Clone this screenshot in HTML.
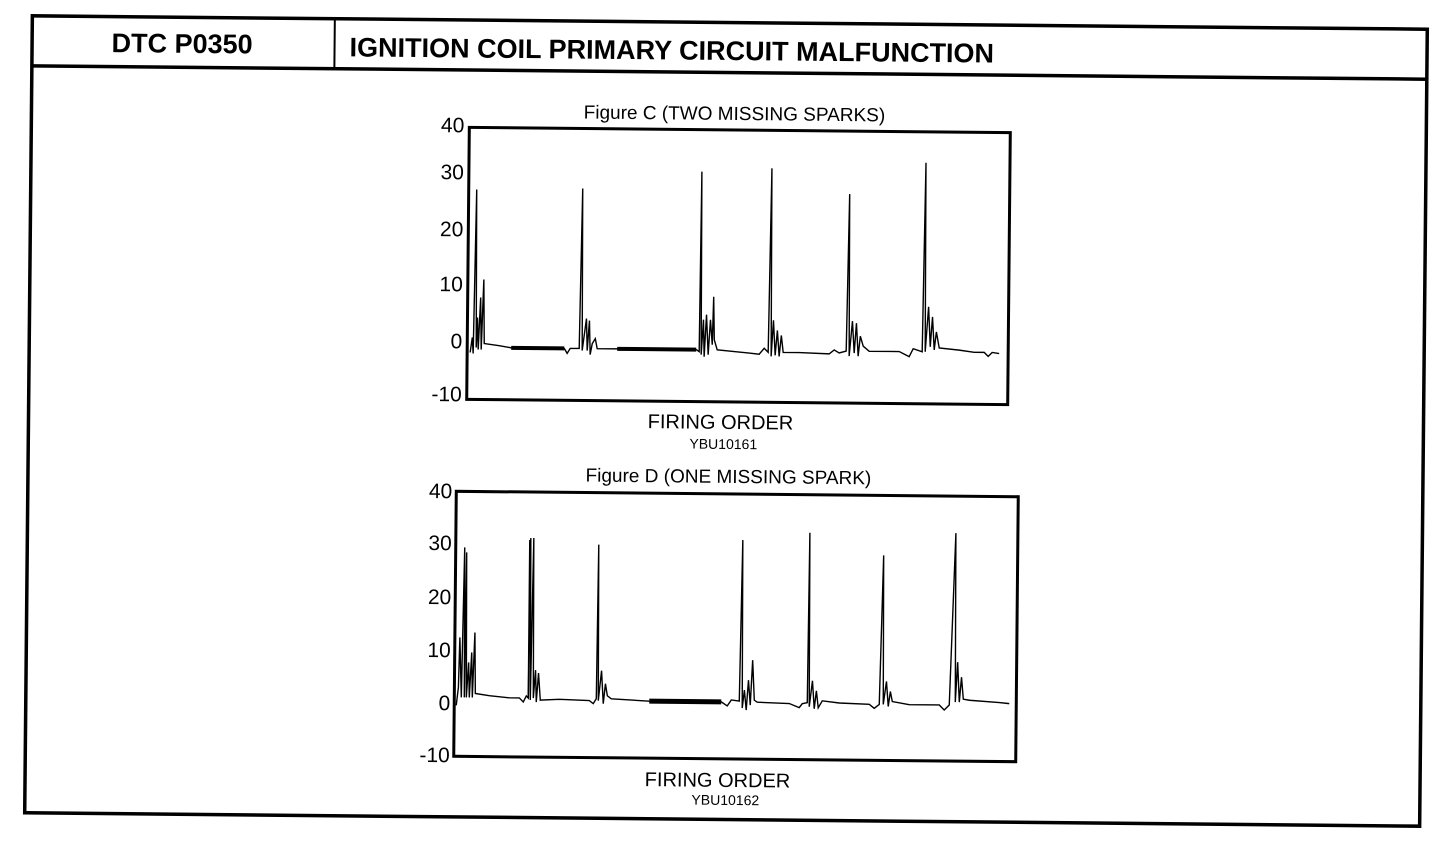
<!DOCTYPE html>
<html><head><style>
body{margin:0;background:#fff;width:1456px;height:844px;overflow:hidden}
svg{position:absolute;left:0;top:0}
text{font-family:"Liberation Sans",sans-serif;fill:#000}
</style></head><body>
<svg width="1456" height="844" viewBox="0 0 1456 844">
<g transform="rotate(0.55,726,421)">
<rect x="28.5" y="22.5" width="1395" height="797" fill="none" stroke="#000" stroke-width="3.5"/>
<line x1="28.5" y1="72.5" x2="1423.5" y2="72.5" stroke="#000" stroke-width="3.5"/>
<line x1="331" y1="22.5" x2="331" y2="72.5" stroke="#000" stroke-width="2"/>
<text x="108" y="58" font-size="27" font-weight="bold">DTC P0350</text>
<text x="346" y="60" font-size="27" font-weight="bold">IGNITION COIL PRIMARY CIRCUIT MALFUNCTION</text>
</g>

<!-- Figure C -->
<g transform="rotate(0.55,738,266)">
<text x="733" y="120" font-size="19" text-anchor="middle">Figure C (TWO MISSING SPARKS)</text>
<rect x="468" y="130" width="541" height="272" fill="none" stroke="#000" stroke-width="3"/>
<g font-size="21" text-anchor="end">
<text x="463" y="135">40</text><text x="463" y="182">30</text><text x="463" y="239">20</text>
<text x="463" y="294">10</text><text x="463" y="351">0</text><text x="463" y="404">-10</text></g>
<polyline fill="none" stroke="#000" stroke-width="1.4" points="471,355 473,340 474,356 476,192 477,350 478,320 479,352 481,300 482,352 484,282 485,346 500,348 512,350 565,350 568,355 571,350 580,350 582,190 583,352 587,320 588,352 590,322 591,356 593,345 596,340 598,350 620,350 697,350 700,352 701,172 702,355 704,320 705,357 707,315 709,355 711,320 713,345 714,297 715,340 718,350 740,352 750,353 760,354 765,348 769,352 771,168 772,356 774,320 776,355 778,330 780,356 782,335 784,352 800,352 830,353 835,349 840,352 847,350 849,193 850,355 853,320 855,352 857,322 859,355 861,335 864,345 870,350 900,350 910,355 914,347 923,350 925,161 926,350 929,305 931,345 933,315 935,348 937,330 940,346 960,348 975,350 985,350 989,354 993,350 1000,351"/>
<line x1="512" y1="350" x2="565" y2="350" stroke="#000" stroke-width="4"/>
<line x1="618" y1="350" x2="697" y2="350" stroke="#000" stroke-width="4"/>
<text x="722" y="429" font-size="20" text-anchor="middle">FIRING ORDER</text>
<text x="725" y="449" font-size="14" text-anchor="middle">YBU10161</text>
</g>

<!-- Figure D -->
<g transform="rotate(0.55,736,626)">
<text x="727" y="483" font-size="19" text-anchor="middle">Figure D (ONE MISSING SPARK)</text>
<rect x="455" y="494" width="562" height="265" fill="none" stroke="#000" stroke-width="3"/>
<g font-size="21" text-anchor="end">
<text x="451" y="501">40</text><text x="451" y="553">30</text><text x="451" y="607">20</text>
<text x="451" y="660">10</text><text x="451" y="713">0</text><text x="451" y="765">-10</text></g>
<polyline fill="none" stroke="#000" stroke-width="1.4" points="457,708 459,690 460,640 462,700 464,550 465,700 466,555 467,700 469,665 470,700 472,655 473,700 475,635 476,696 490,698 510,700 520,700 524,704 527,698 529,700 530,540 531,702 533,540 534,700 536,672 537,704 539,675 541,702 560,701 590,702 594,705 597,700 598,546 599,702 602,672 604,705 606,685 608,697 612,700 650,702 722,702 728,706 732,700 740,701 742,540 743,708 745,690 747,710 749,680 751,705 753,660 755,700 758,702 790,703 800,707 803,703 808,702 809,532 810,706 813,680 815,708 817,690 819,707 823,700 840,702 870,703 875,707 880,703 883,554 884,703 887,680 889,705 891,690 893,700 910,703 940,703 945,708 950,703 955,531 956,700 958,660 960,700 962,675 964,697 970,698 1000,700 1010,701"/>
<line x1="650" y1="702" x2="722" y2="702" stroke="#000" stroke-width="5"/>
<line x1="529" y1="700" x2="529" y2="542" stroke="#000" stroke-width="1.5"/>
<text x="719" y="787" font-size="20" text-anchor="middle">FIRING ORDER</text>
<text x="727" y="805" font-size="14" text-anchor="middle">YBU10162</text>
</g>
</svg>
</body></html>
